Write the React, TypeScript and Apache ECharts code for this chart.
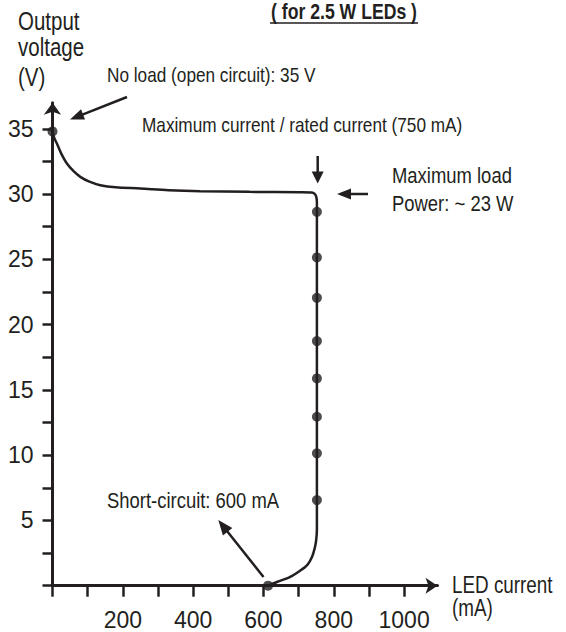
import React, { useEffect, useRef } from "react";
import * as echarts from "echarts";

// LED current (mA) / output voltage (V) of the constant-current curve
const curveCurrent = [0, 5, 12.5, 25, 41, 60, 79, 105, 136, 180, 249, 330, 420, 560, 704, 737, 745, 750, 752, 752, 752, 750, 746, 738, 725, 704, 676, 640, 613];
const curveVoltage = [34.8, 34.3, 33.87, 33.1, 32.34, 31.75, 31.32, 30.95, 30.68, 30.52, 30.43, 30.3, 30.22, 30.17, 30.14, 30.12, 30.03, 29.8, 29.4, 5.5, 4.3, 3.5, 2.9, 2.2, 1.6, 1.15, 0.68, 0.3, 0.0];

// measurement points
const markerCurrent = [0, 752, 752, 752, 752, 752, 752, 752, 752, 613];
const markerVoltage = [34.8, 28.64, 25.15, 22.05, 18.74, 15.88, 12.94, 10.14, 6.56, 0];

const xTickValues = [0, 100, 200, 300, 400, 500, 600, 700, 800, 900, 1000];
const xLabelValues = [200, 400, 600, 800, 1000];
const yTickValues = [0, 2.5, 5, 7.5, 10, 12.5, 15, 17.5, 20, 22.5, 25, 27.5, 30, 32.5, 35];
const yLabelValues = [5, 10, 15, 20, 25, 30, 35];

const titleText = "( for 2.5 W LEDs )";
const yNameLines = ["Output", "voltage", "(V)"];
const xNameLines = ["LED current", "(mA)"];
const noLoadText = "No load (open circuit): 35 V";
const maxCurrentText = "Maximum current / rated current (750 mA)";
const maxLoadLines = ["Maximum load", "Power: ~ 23 W"];
const shortCircuitText = "Short-circuit: 600 mA";

const FONT = "'Liberation Sans', Arial, sans-serif";
const INK = "#231f20";
const NARROW = 0.82;

function arrow(x1: number, y1: number, x2: number, y2: number, len: number, w: number) {
  const dx = x2 - x1;
  const dy = y2 - y1;
  const d = Math.sqrt(dx * dx + dy * dy);
  const ux = dx / d;
  const uy = dy / d;
  const bx = x2 - ux * len;
  const by = y2 - uy * len;
  const px = -uy * (w / 2);
  const py = ux * (w / 2);
  return [
    {
      type: "line",
      shape: { x1, y1, x2: bx + ux * 2, y2: by + uy * 2 },
      style: { stroke: INK, lineWidth: 2.5 },
      silent: true,
    },
    {
      type: "polygon",
      shape: { points: [[x2, y2], [bx + px, by + py], [bx - px, by - py]] },
      style: { fill: INK },
      silent: true,
    },
  ];
}

function label(text: string, x: number, y: number, size: number, extra: any = {}) {
  return {
    type: "text",
    x,
    y,
    scaleX: NARROW,
    silent: true,
    style: {
      text,
      fill: INK,
      font: `${extra.bold ? "bold " : ""}${size}px ${FONT}`,
      align: extra.align || "left",
      verticalAlign: "middle",
    },
  };
}

export default function App() {
  const ref = useRef<HTMLDivElement>(null);

  useEffect(() => {
    if (!ref.current) return;
    const chart = echarts.init(ref.current, undefined, { renderer: "svg" });
    const lineData = curveCurrent.map((c, i) => [c, curveVoltage[i]]);
    const markerData = markerCurrent.map((c, i) => [c, markerVoltage[i]]);

    const graphics: any[] = [
      label(titleText, 344, 11.5, 21.5, { bold: true, align: "center" }),
      {
        type: "line",
        shape: { x1: 270, y1: 23, x2: 418, y2: 23 },
        style: { stroke: INK, lineWidth: 1.5 },
        silent: true,
      },
      label(yNameLines[0], 18, 21, 25),
      label(yNameLines[1], 18, 47.5, 25),
      label(yNameLines[2], 18, 77, 25),
      label(xNameLines[0], 452, 585, 23),
      label(xNameLines[1], 452, 608, 23),
      label(noLoadText, 107, 75, 21),
      label(maxCurrentText, 142, 125, 21),
      label(maxLoadLines[0], 392, 175, 22.5),
      label(maxLoadLines[1], 392, 203, 22.5),
      label(shortCircuitText, 107, 500, 22.5),
      ...arrow(127, 97, 70, 119.5, 14, 11),
      ...arrow(317.7, 156, 317.7, 183.5, 12, 12),
      ...arrow(368, 194, 337, 194, 14, 11),
      ...arrow(263.5, 577, 218.3, 520, 15, 12),
    ];

    chart.setOption({
      animation: false,
      backgroundColor: "#ffffff",
      grid: { left: 52.5, top: 102.7, width: 385, height: 483, containLabel: false },
      xAxis: {
        type: "value",
        min: 0,
        max: 1095,
        axisLine: {
          show: true,
          onZero: false,
          symbol: ["none", "arrow"],
          symbolSize: [12, 12],
          lineStyle: { color: INK, width: 3 },
        },
        axisTick: {
          show: true,
          customValues: xTickValues,
          length: 11,
          lineStyle: { color: INK, width: 2.5 },
        },
        axisLabel: {
          customValues: xLabelValues,
          formatter: (v: number) => String(v),
          margin: 23,
          fontSize: 23,
          fontFamily: FONT,
          color: INK,
        },
        splitLine: { show: false },
      },
      yAxis: {
        type: "value",
        min: 0,
        max: 37,
        axisLine: {
          show: true,
          onZero: false,
          symbol: ["none", "arrow"],
          symbolSize: [13, 12],
          lineStyle: { color: INK, width: 3 },
        },
        axisTick: {
          show: true,
          customValues: yTickValues,
          length: 10,
          lineStyle: { color: INK, width: 2.5 },
        },
        axisLabel: {
          customValues: yLabelValues,
          formatter: (v: number) => String(v),
          margin: 19,
          fontSize: 23,
          fontFamily: FONT,
          color: INK,
        },
        splitLine: { show: false },
      },
      series: [
        {
          type: "line",
          data: lineData,
          smooth: 0.3,
          showSymbol: false,
          lineStyle: { color: INK, width: 2.5 },
          z: 2,
        },
        {
          type: "scatter",
          data: markerData,
          symbolSize: 10,
          itemStyle: { color: INK },
          z: 3,
        },
      ],
      graphic: graphics,
    });
    return () => chart.dispose();
  }, []);

  return (
    <div
      ref={ref}
      style={{ position: "absolute", left: 0, top: 0, width: 566, height: 632, background: "#fff" }}
    />
  );
}
